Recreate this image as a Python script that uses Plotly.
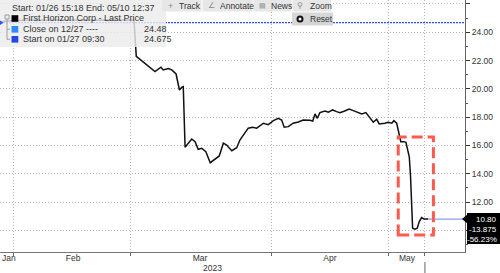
import plotly.graph_objects as go

# ---------------- data ----------------
dates = [
    "2023-01-26 15:00", "2023-01-27 09:00", "2023-01-30 12:00", "2023-01-31 12:00",
    "2023-02-03 00:00", "2023-02-10 00:00", "2023-02-17 00:00", "2023-02-24 00:00",
    "2023-03-01 15:00", "2023-03-02 00:00", "2023-03-02 14:00", "2023-03-03 17:00",
    "2023-03-07 01:00", "2023-03-08 00:00", "2023-03-08 09:00", "2023-03-09 05:00",
    "2023-03-09 18:00", "2023-03-10 11:00", "2023-03-13 00:00", "2023-03-13 09:00",
    "2023-03-13 15:00", "2023-03-13 22:00", "2023-03-15 00:00", "2023-03-15 13:00",
    "2023-03-16 01:00", "2023-03-16 15:00", "2023-03-17 07:00", "2023-03-20 00:00",
    "2023-03-20 18:00", "2023-03-21 11:00", "2023-03-22 03:00", "2023-03-22 16:00",
    "2023-03-23 12:00", "2023-03-24 07:00", "2023-03-24 20:00", "2023-03-27 15:00",
    "2023-03-28 04:00", "2023-03-28 21:00", "2023-03-29 13:00", "2023-03-30 15:00",
    "2023-03-31 10:00", "2023-04-03 06:00", "2023-04-04 01:00", "2023-04-04 14:00",
    "2023-04-05 00:00", "2023-04-05 16:00", "2023-04-06 11:00", "2023-04-10 07:00",
    "2023-04-11 02:00", "2023-04-12 04:00", "2023-04-12 15:00", "2023-04-13 00:00",
    "2023-04-13 09:00", "2023-04-13 19:00", "2023-04-14 15:00", "2023-04-17 04:00",
    "2023-04-17 21:00", "2023-04-18 12:00", "2023-04-19 01:00", "2023-04-19 17:00",
    "2023-04-20 13:00", "2023-04-21 05:00", "2023-04-24 00:00", "2023-04-24 14:00",
    "2023-04-25 06:00", "2023-04-25 22:00", "2023-04-26 11:00", "2023-04-27 00:00",
    "2023-04-27 10:00", "2023-04-28 08:00", "2023-04-28 21:00", "2023-05-01 11:00",
    "2023-05-01 19:00", "2023-05-02 06:00", "2023-05-02 16:00", "2023-05-02 22:00",
    "2023-05-03 10:00", "2023-05-03 18:00", "2023-05-04 07:00", "2023-05-04 12:00",
    "2023-05-04 20:00", "2023-05-05 05:00", "2023-05-05 14:00", "2023-05-05 22:00",
    "2023-05-08 07:00", "2023-05-08 16:00", "2023-05-09 09:00",
]
prices = [
    24.70, 24.675, 24.78, 24.82,
    24.85, 24.86, 24.84, 24.86,
    24.86, 22.30, 22.09, 21.69,
    21.22, 21.53, 21.34, 21.43,
    21.34, 21.05, 19.92, 20.10,
    20.15, 15.87, 16.46, 16.27,
    15.73, 15.80, 15.56, 14.78,
    15.02, 15.26, 16.16, 16.03,
    15.63, 15.84, 16.40, 16.86,
    17.22, 17.29, 17.22, 17.57,
    17.47, 17.75, 17.92, 17.80,
    17.29, 17.33, 17.57, 17.66,
    17.80, 17.78, 17.73, 18.23,
    17.92, 18.32, 18.44, 18.35,
    18.51, 18.39, 18.32, 18.42,
    18.58, 18.46, 18.32, 18.23,
    18.32, 17.92, 17.64, 17.85,
    17.52, 17.57, 17.64, 17.57,
    17.75, 17.57, 16.74, 16.27,
    16.27, 16.22, 15.20, 13.80,
    10.15, 10.08, 10.15, 10.62,
    10.90, 10.81, 10.80,
]
start_value = 24.675
close_value = 24.48
last_value = 10.80
net_change = -13.875
pct_change = -56.23

y_tick_values = [10, 12, 14, 16, 18, 20, 22, 24, 26]
month_boundaries = ["2023-02-01", "2023-03-01", "2023-04-03", "2023-05-01", "2023-05-08 20:00"]
month_label_dates = ["2023-01-31 08:00", "2023-02-14 18:00", "2023-03-16 08:00",
                     "2023-04-17 10:00", "2023-05-03 22:00"]
month_labels = ["Jan", "Feb", "Mar", "Apr", "May"]
year_label = "2023"
x_range = ["2023-01-27 21:22", "2023-05-17 08:00"]
y_range = [8.47, 26.28]
holidays = ["2023-02-20", "2023-04-07"]

# ---------------- layout helpers ----------------
W, H = 500, 273
ML, MR, MT, MB = 0, 35, 0, 21
PW, PH = W - ML - MR, H - MT - MB
FONT = "Liberation Sans, Arial, sans-serif"
TXT = "#333333"


def px(x):
    return (x - ML) / PW


def py(y):
    return 1 - (y - MT) / PH


rb = [dict(bounds=["sat", "mon"]), dict(values=holidays)]

fig = go.Figure()
fig.add_trace(go.Scatter(x=dates, y=prices, mode="lines",
                         line=dict(color="#111111", width=1.5), hoverinfo="skip"))
# last price extension line
fig.add_trace(go.Scatter(x=[dates[-1], x_range[1]], y=[last_value, last_value], mode="lines",
                         line=dict(color="#8c9cf0", width=1.2), hoverinfo="skip"))

shapes = []
annotations = []


def rect(x0, y0, x1, y1, fill, layer="above", line=None):
    shapes.append(dict(type="rect", xref="paper", yref="paper", x0=px(x0), x1=px(x1), y0=py(y1), y1=py(y0),
                       fillcolor=fill, line=line or dict(width=0), layer=layer))


def seg(x0, y0, x1, y1, color, width=1):
    shapes.append(dict(type="line", xref="paper", yref="paper", x0=px(x0), x1=px(x1), y0=py(y0), y1=py(y1),
                       line=dict(color=color, width=width), layer="above"))


# start value dotted line
shapes.append(dict(type="line", xref="paper", yref="y", x0=0, x1=1, y0=start_value, y1=start_value,
                   line=dict(color="#2f4ff0", width=1.2, dash="2px,1px"), layer="below"))

# red dashed highlight box
shapes.append(dict(type="rect", xref="x", yref="y", x0="2023-05-02 12:00", x1="2023-05-10 05:00",
                   y0=9.67, y1=16.6, line=dict(color="#ff5a50", width=3, dash="11px,5px")))

# marker line under axis
shapes.append(dict(type="line", xref="x", yref="paper", x0=month_boundaries[-1], x1=month_boundaries[-1],
                   y0=py(262), y1=py(273), line=dict(color="#666666", width=1)))

# legend box
rect(0, 0, 166, 47, "rgba(236,236,236,0.82)")
for yy, c in [(18.5, "#000000"), (29.3, "#2a8cff"), (39.3, "#2446e8")]:
    rect(11.5, yy - 3.3, 18.3, yy + 3.3, c)
# small tree icon
rect(5, 15, 9, 19, "rgba(0,0,0,0)", line=dict(color="#9a9a9a", width=1))
seg(7, 19, 7, 39.5, "#a0a0a0")
seg(7, 29.3, 10, 29.3, "#a0a0a0")
seg(7, 39.3, 10, 39.3, "#a0a0a0")
# start marker triangle
shapes.append(dict(type="path", xref="paper", yref="paper",
                   path=f"M {px(0)} {py(20.5)} L {px(3.5)} {py(22.7)} L {px(0)} {py(25)} Z",
                   fillcolor="#2f4ff0", line=dict(width=0), layer="above"))

# toolbar
rect(162, 0, 331, 11.5, "rgba(230,230,230,0.95)")
for sx in [202, 253, 292]:
    seg(sx, 0, sx, 11.5, "#ffffff", 1)
rect(292, 12.5, 333, 25.5, "rgba(214,214,214,0.97)")
shapes.append(dict(type="circle", xref="paper", yref="paper", x0=px(297.5), x1=px(302.5),
                   y0=py(21.5), y1=py(16.5),
                   fillcolor="white", line=dict(color="#111111", width=2), layer="above"))

# last value box
rect(467, 213, 500, 244, "#000000")
shapes.append(dict(type="path", xref="paper", yref="paper",
                   path=f"M {px(462)} {py(219)} L {px(468)} {py(214)} L {px(468)} {py(224)} Z",
                   fillcolor="#000000", line=dict(width=0), layer="above"))


def txt(x, y, s, size=9, color=TXT, anchor="left"):
    annotations.append(dict(xref="paper", yref="paper", x=px(x), y=py(y), text=s, showarrow=False,
                            xanchor=anchor, yanchor="middle", font=dict(family=FONT, size=size, color=color)))


txt(10, 8.3, "Start: 01/26 15:18 End: 05/10 12:37")
txt(20.5, 18.5, "First Horizon Corp - Last Price")
txt(20.5, 29.3, "Close on 12/27 ----")
txt(141.5, 29.3, f"{close_value:.2f}")
txt(20.5, 39.3, "Start on 01/27 09:30")
txt(141.5, 39.3, f"{start_value:.3f}")

txt(165.5, 5.5, "+", size=9, color="#8a8a8a")
txt(176.5, 5.5, "Track", size=8.5)
txt(206, 5.5, "∠", size=8, color="#8a8a8a")
txt(217.5, 5.5, "Annotate", size=8.5)
txt(257, 5.5, "▤", size=7, color="#8a8a8a")
txt(268.5, 5.5, "News", size=8.5)
txt(295, 5.5, "⚲", size=8, color="#8a8a8a")
txt(307.5, 5.5, "Zoom", size=8.5)
txt(307.5, 19, "Reset", size=8.5)

txt(498.5, 219, f"{last_value:.2f}", size=8, color="white", anchor="right")
txt(498.5, 229, f"{net_change:.3f}", size=8, color="white", anchor="right")
txt(498.5, 239, f"{pct_change:.2f}%", size=8, color="white", anchor="right")

txt(212, 267.5, year_label, size=8.5, anchor="center")

fig.update_layout(
    width=W, height=H,
    margin=dict(l=ML, r=MR, t=MT, b=MB, pad=0),
    paper_bgcolor="white", plot_bgcolor="white",
    showlegend=False,
    shapes=shapes, annotations=annotations,
    font=dict(family=FONT, size=9, color=TXT),
    xaxis=dict(
        type="date", range=x_range, rangebreaks=rb,
        tickmode="array", tickvals=month_boundaries, ticktext=[""] * len(month_boundaries),
        ticks="outside", ticklen=3, tickcolor="#666666",
        showgrid=True, gridcolor="#b5b5b5", griddash="1px,2px", gridwidth=1,
        showline=True, linecolor="#777777", linewidth=1, zeroline=False,
    ),
    xaxis2=dict(
        type="date", range=x_range, rangebreaks=rb, overlaying="x", side="bottom",
        tickmode="array", tickvals=month_label_dates, ticktext=month_labels,
        ticks="", ticklabelstandoff=-1, showgrid=False, showline=False, zeroline=False,
        tickfont=dict(family=FONT, size=8.5, color=TXT),
    ),
    yaxis=dict(
        side="right", range=y_range,
        tickmode="array", tickvals=y_tick_values,
        ticktext=["" if v == 10 else f"{v:.2f}" for v in y_tick_values],
        ticks="outside", ticklen=4, tickcolor="#333333",
        minor=dict(tickmode="array", tickvals=[v + 1 for v in y_tick_values[:-1]] + [9],
                   ticks="outside", ticklen=2, tickcolor="#555555", showgrid=False),
        showgrid=True, gridcolor="#b5b5b5", griddash="1px,2px", gridwidth=1,
        showline=True, linecolor="#666666", linewidth=1, zeroline=False,
        tickfont=dict(family=FONT, size=8.5, color=TXT),
    ),
)
# invisible helper trace so the label axis is drawn
fig.add_trace(go.Scatter(x=[x_range[0]], y=[y_range[0]], xaxis="x2", mode="markers",
                         marker=dict(opacity=0, size=1), hoverinfo="skip", showlegend=False))

fig.write_html("out.html")
